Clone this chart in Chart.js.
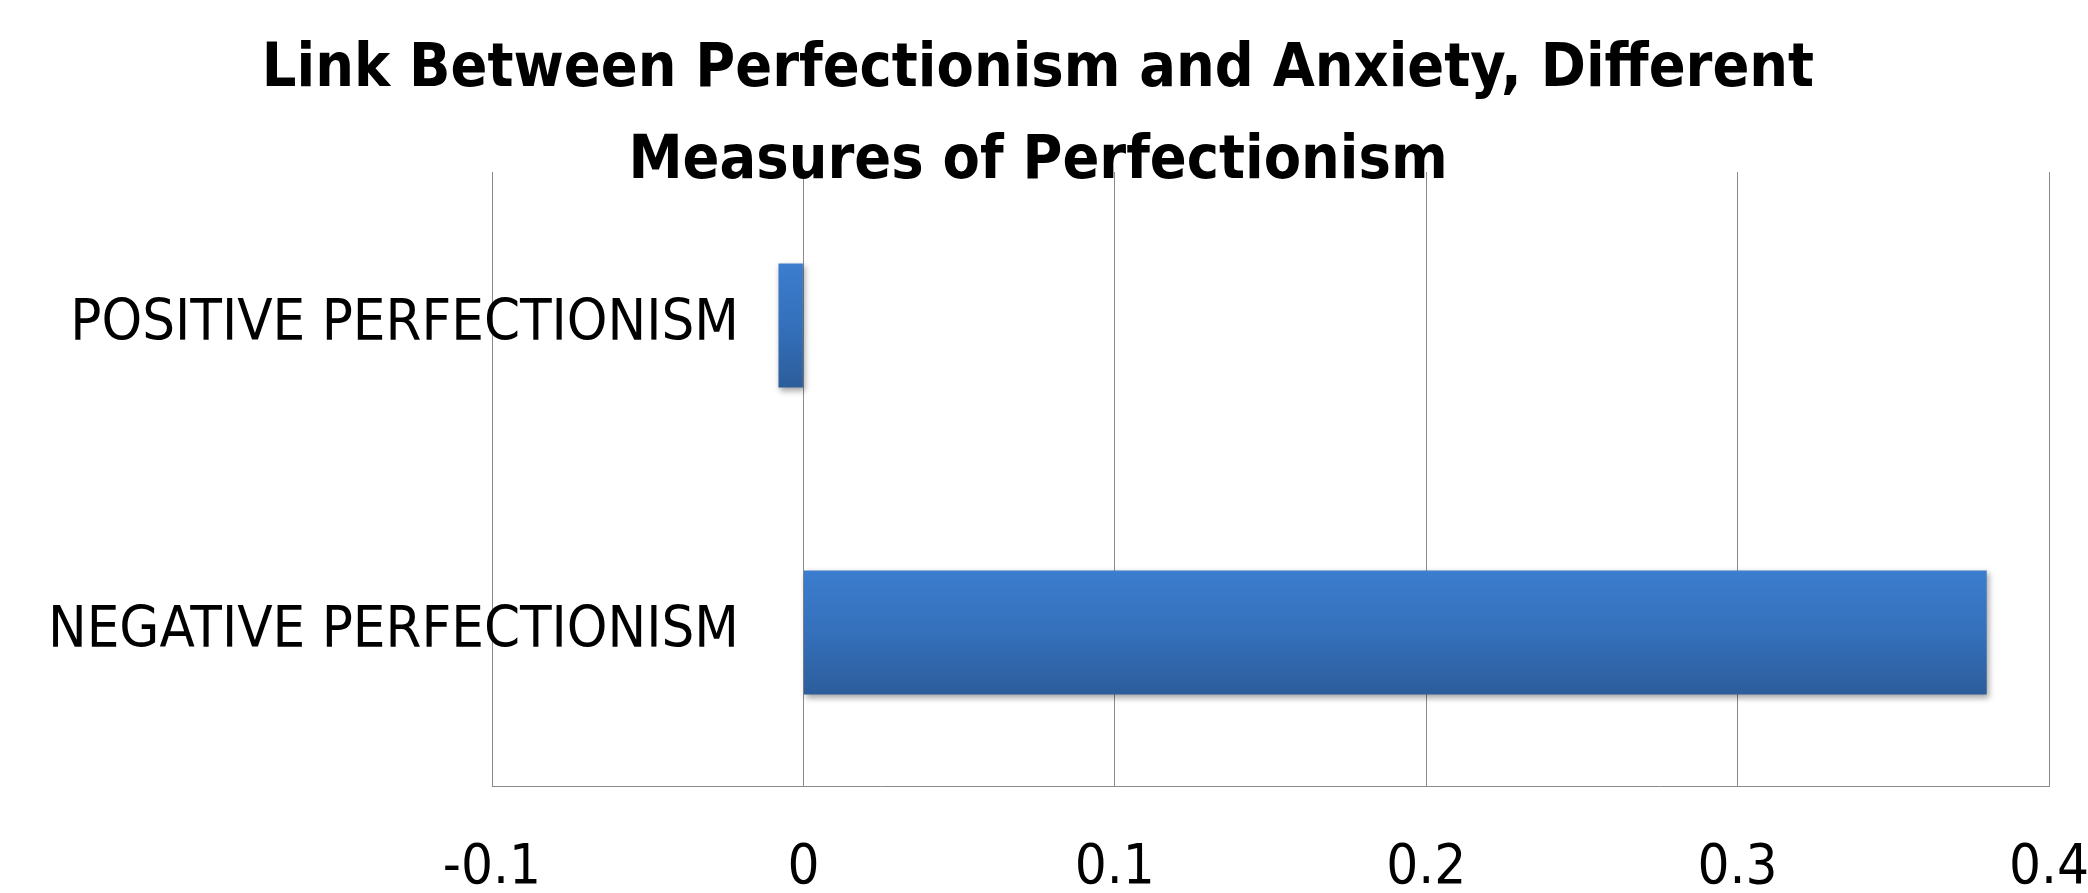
<!DOCTYPE html>
<html>
<head>
<meta charset="utf-8">
<script src="https://cdn.jsdelivr.net/npm/chart.js@4.4.1/dist/chart.umd.min.js"></script>
<style>
  html, body { margin: 0; padding: 0; background: #ffffff; }
  #wrap { width: 2088px; height: 893px; }
</style>
</head>
<body>
<div id="wrap"><canvas id="c" width="2088" height="893"></canvas></div>
<script>
const titleLines = ["Link Between Perfectionism and Anxiety, Different", "Measures of Perfectionism"];
const categories = ["POSITIVE PERFECTIONISM", "NEGATIVE PERFECTIONISM"];
const values = [-0.008, 0.38];
const xTickLabels = ["-0.1", "0", "0.1", "0.2", "0.3", "0.4"];
const xMin = -0.1;
const xMax = 0.4;
const xStep = 0.1;

const FONT = "'DejaVu Sans Condensed', 'DejaVu Sans', 'Liberation Sans', sans-serif";
const TICK_SIZE = 56;
const CAT_SIZE = 57.5;
const BAR_PCT = 0.404;
const GRID = '#8a8a8a';

// width of the widest category label, used to right-align labels at a fixed offset
const mctx = document.createElement('canvas').getContext('2d');
mctx.font = CAT_SIZE + 'px ' + FONT;
const widestLabel = Math.max(...categories.map(c => mctx.measureText(c).width));
const LABEL_RIGHT_OFFSET = 247; // label right edge distance from plot's left edge

const shadowPlugin = {
  id: 'barShadow',
  beforeDatasetsDraw(chart) {
    const ctx = chart.ctx;
    ctx.save();
    ctx.shadowColor = 'rgba(0,0,0,0.35)';
    ctx.shadowBlur = 6;
    ctx.shadowOffsetX = 2;
    ctx.shadowOffsetY = 3;
  },
  afterDatasetsDraw(chart) {
    chart.ctx.restore();
  }
};

function barGradient(context) {
  const chart = context.chart;
  const ys = chart.scales && chart.scales.y;
  if (!ys || context.type !== 'data' || !isFinite(ys.height) || ys.height <= 0) return '#3570BA';
  const c = ys.getPixelForValue(context.dataIndex);
  const half = (ys.height / categories.length) * BAR_PCT / 2;
  const g = chart.ctx.createLinearGradient(0, c - half, 0, c + half);
  g.addColorStop(0, '#3C7DCE');
  g.addColorStop(0.5, '#3470BB');
  g.addColorStop(1, '#2C5D9B');
  return g;
}

new Chart(document.getElementById('c'), {
  type: 'bar',
  data: {
    labels: categories,
    datasets: [{
      data: values,
      backgroundColor: barGradient,
      borderWidth: 0,
      categoryPercentage: 1,
      barPercentage: BAR_PCT
    }]
  },
  options: {
    indexAxis: 'y',
    responsive: false,
    devicePixelRatio: 1,
    animation: false,
    layout: { padding: { left: 27, right: 39, top: 0, bottom: 0 } },
    plugins: {
      legend: { display: false },
      tooltip: { enabled: false },
      title: {
        display: true,
        text: titleLines,
        color: '#000000',
        font: { family: FONT, size: 60.5, weight: 'bold', lineHeight: 92 / 60.5 },
        padding: { top: 24.5, bottom: -36.5 }
      }
    },
    scales: {
      x: {
        type: 'linear',
        position: 'bottom',
        min: xMin,
        max: xMax,
        grid: { display: true, color: GRID, lineWidth: 1, drawTicks: false, tickLength: 0 },
        border: { display: true, color: GRID, width: 1 },
        ticks: {
          stepSize: xStep,
          color: '#000000',
          padding: 59.6,
          font: { family: FONT, size: TICK_SIZE, lineHeight: 0.8 },
          callback: (v, i) => xTickLabels[i]
        },
        afterFit(scale) {
          scale.height = 107;
          scale.paddingLeft = 0;
          scale.paddingRight = 0;
        }
      },
      y: {
        type: 'category',
        position: 'left',
        grid: { display: false, drawTicks: false, tickLength: 0 },
        border: { display: true, color: GRID, width: 1 },
        ticks: {
          color: '#000000',
          mirror: true,
          crossAlign: 'far',
          padding: LABEL_RIGHT_OFFSET - widestLabel,
          font: { family: FONT, size: CAT_SIZE, lineHeight: 1.2 }
        },
        afterFit(scale) { scale.width = 465; }
      }
    }
  },
  plugins: [shadowPlugin]
});
</script>
</body>
</html>
